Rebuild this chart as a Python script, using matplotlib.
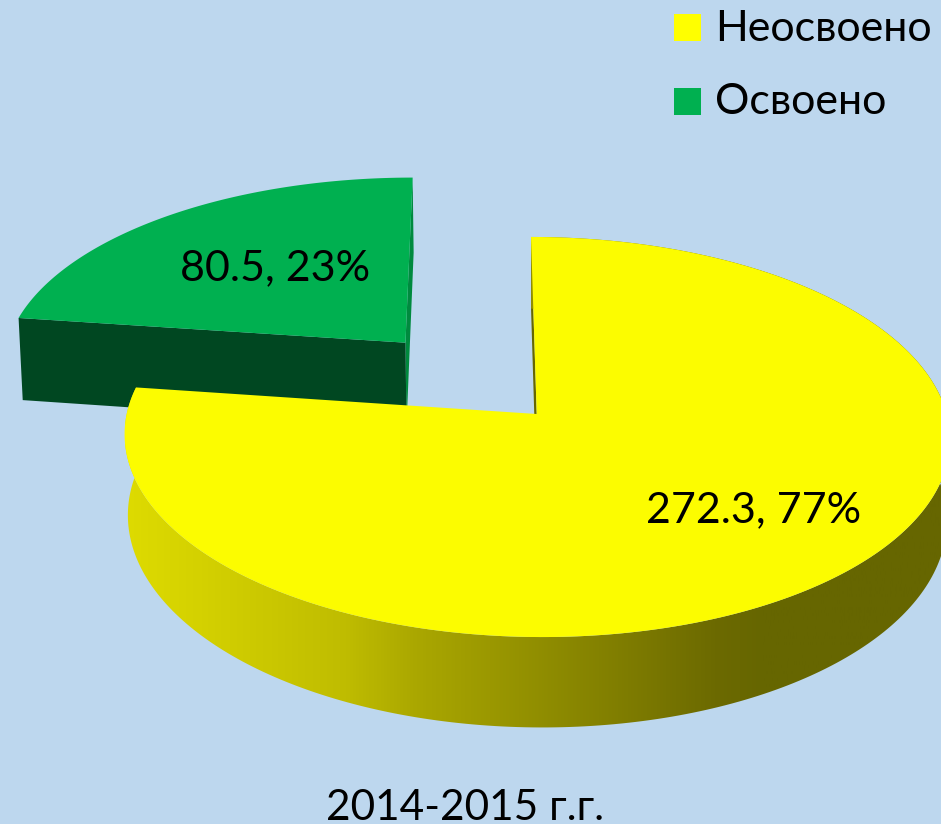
import matplotlib
matplotlib.use('Agg')
import matplotlib.pyplot as plt
from matplotlib.colors import LinearSegmentedColormap
from matplotlib.patches import Polygon, Rectangle
import numpy as np

labels = ['Неосвоено', 'Освоено']
values = [272.3, 80.5]
percents = [77, 23]
period = '2014-2015 г.г.'

plt.rcParams['font.family'] = ['Lato', 'Open Sans', 'DejaVu Sans']

bg = '#BDD7EE'
yellow = '#FCFC00'
green = '#00B050'

# projection of the tilted pie, all in pixels
cx, cy = 536.7, 414
b, a, k = 410, 197.4, 0.115
shear = 5.7
explode = 0.5


def project(u, v):
    d = 1 - k * v
    return cx + b * u / d + shear * v, cy + a * v / d


def lower(x, y, v, depth):
    return cx + (x - cx) * 0.992, y + depth / (1 - k * v)


def wedge(start, stop, off=0.0, radius=1.0):
    mid = (start + stop) / 2
    ou, ov = off * np.sin(mid), -off * np.cos(mid)
    t = np.linspace(start, stop, 300)
    return radius * np.sin(t) + ou, -radius * np.cos(t) + ov, ou, ov


fig = plt.figure(figsize=(9.41, 8.24), dpi=100, facecolor=bg)
ax = fig.add_axes([0, 0, 1, 1])
ax.set_axis_off()

fracs = np.array(values) / sum(values)
end_y = 2 * np.pi * fracs[0]

# exploded green slice, back to front
u, v, ou, ov = wedge(end_y, 2 * np.pi, explode, 1.012)
gx, gy = project(u, v)
ax0, ay0 = project(ou, ov)
bx, by = lower(gx, gy, v, 87)
bx0, by0 = lower(ax0, ay0, ov, 87)
ax.add_patch(Polygon([(gx[-1], gy[-1]), (ax0, ay0), (bx0, by0), (bx[-1], by[-1])],
                     fc='#008A3E', ec='none', zorder=1))
ax.add_patch(Polygon([(gx[0], gy[0]), (ax0, ay0), (bx0, by0), (bx[0], by[0])],
                     fc='#004721', ec='none', zorder=2))
ax.add_patch(Polygon(np.r_[[[ax0, ay0]], np.c_[gx, gy]], fc=green, ec='none', zorder=3))

# yellow slice
u, v, ou, ov = wedge(0, end_y)
yx, yy = project(u, v)
ax0, ay0 = project(0, 0)
bx, by = lower(yx, yy, v, 80)
bx0, by0 = lower(ax0, ay0, 0, 80)
ax.add_patch(Polygon([(yx[0], yy[0]), (ax0, ay0), (bx0, by0), (bx[0], by[0])],
                     fc='#666600', ec='none', zorder=4))

# rim with the horizontal shading
rim = Polygon(np.r_[np.c_[yx, yy], np.c_[bx, by][::-1]], fc='none', ec='none', zorder=5)
ax.add_patch(rim)
shade = LinearSegmentedColormap.from_list(
    'rim', [(0, '#DEDB00'), (0.1, '#D3D000'), (0.27, '#BFBC00'), (0.35, '#ABA800'),
            (0.72, '#6C6A00'), (0.78, '#666600'), (1, '#666600')])
img = ax.imshow(np.linspace(0, 1, 512)[None, :], extent=(125, 945, 824, 0), aspect='auto',
                cmap=shade, zorder=5)
img.set_clip_path(rim)
ax.add_patch(Polygon(np.r_[[[ax0, ay0]], np.c_[yx, yy]], fc=yellow, ec='none', zorder=6))

ax.set_xlim(0, 941)
ax.set_ylim(824, 0)

ax.text(275, 280, f'{values[1]}, {percents[1]}%', fontsize=31, ha='center', va='baseline', zorder=8)
ax.text(754, 522, f'{values[0]}, {percents[0]}%', fontsize=31, ha='center', va='baseline', zorder=8)
ax.text(465, 820, period, fontsize=30.5, ha='center', va='baseline', zorder=8)

# legend
for lab, col, ly, base in zip(labels, ['#FFFF00', green], [27, 101], [41, 114]):
    ax.add_patch(Rectangle((674, ly - 13.5), 27, 27, fc=col, ec='none', zorder=8))
    ax.text(715, base, lab, fontsize=31, ha='left', va='baseline', zorder=8)

fig.savefig('out.png', dpi=100, facecolor=bg)
